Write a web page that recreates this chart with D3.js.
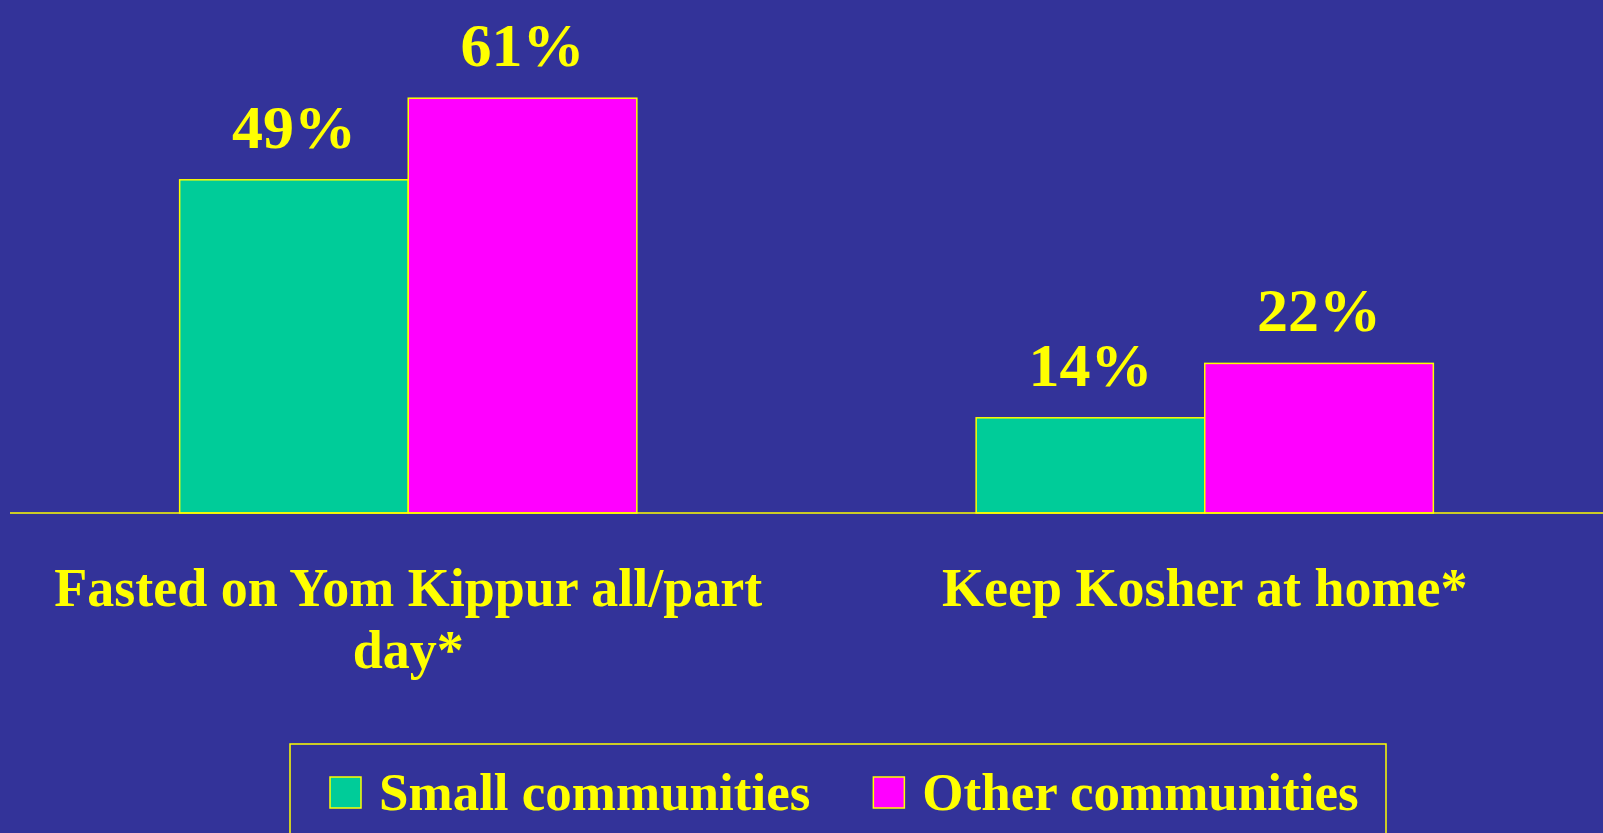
<!DOCTYPE html>
<head>
    <meta charset="utf-8">
    <script src="https://d3js.org/d3.v7.min.js"></script>
    <style>
      body { margin: 0; background: #333399; overflow: hidden; }
      svg text { font-family: "Liberation Serif", "Times New Roman", serif; font-weight: bold; fill: #ffff00; }
    </style>
</head>
<body>
    <div class="chart"></div>

    <script>
      // data
      var categories = ['Fasted on Yom Kippur all/part day*', 'Keep Kosher at home*'];
      var seriesNames = ['Small communities', 'Other communities'];
      var smallValues = [49, 14];
      var otherValues = [61, 22];
      var colors = ['#00cc99', '#ff00ff'];

      var width = 1603, height = 833;
      var baseline = 513;

      var svg = d3.select('.chart')
          .append('svg')
          .attr('width', width)
          .attr('height', height);

      svg.append('rect')
          .attr('width', width)
          .attr('height', height)
          .attr('fill', '#333399');

      var x0 = d3.scaleBand()
          .domain(categories)
          .range([10, width])
          .paddingInner(0.426)
          .paddingOuter(0.213);

      var x1 = d3.scaleBand()
          .domain(seriesNames)
          .range([0, x0.bandwidth()]);

      var y = d3.scaleLinear()
          .domain([0, 75])
          .range([baseline, baseline - 75 * 6.8]);

      var data = categories.map(function(c, i) {
          return {cat: c, values: [
              {name: seriesNames[0], value: smallValues[i], color: colors[0]},
              {name: seriesNames[1], value: otherValues[i], color: colors[1]}
          ]};
      });

      var groups = svg.selectAll('.group')
          .data(data)
          .enter().append('g')
          .attr('class', 'group')
          .attr('transform', function(d) { return 'translate(' + x0(d.cat) + ',0)'; });

      groups.selectAll('rect')
          .data(function(d) { return d.values; })
          .enter().append('rect')
          .attr('x', function(d) { return x1(d.name); })
          .attr('y', function(d) { return y(d.value); })
          .attr('width', x1.bandwidth())
          .attr('height', function(d) { return y(0) - y(d.value); })
          .attr('fill', function(d) { return d.color; })
          .attr('stroke', '#ffff00')
          .attr('stroke-width', 1.5);

      groups.selectAll('.val')
          .data(function(d) { return d.values; })
          .enter().append('text')
          .attr('class', 'val')
          .attr('x', function(d) { return x1(d.name) + x1.bandwidth() / 2; })
          .attr('y', function(d) { return y(d.value) - 32; })
          .attr('text-anchor', 'middle')
          .style('font-size', '62px')
          .text(function(d) { return d.value + '%'; });

      // baseline axis
      var xAxis = d3.axisBottom(x0).tickSize(0).tickPadding(55);
      var axisG = svg.append('g')
          .attr('transform', 'translate(0,' + baseline + ')')
          .call(xAxis);
      axisG.select('.domain').attr('stroke', '#ffff00').attr('stroke-width', 1.5)
          .attr('d', 'M10,0H' + width);
      axisG.selectAll('.tick text')
          .attr('fill', '#ffff00')
          .style('font-size', '54px')
          .style('font-family', '"Liberation Serif", serif')
          .style('font-weight', 'bold')
          .call(wrap, x0.step());

      function wrap(texts, maxW) {
          texts.each(function() {
              var text = d3.select(this),
                  words = text.text().split(/\s+/),
                  line = [],
                  lineNo = 0,
                  ty = text.attr('y');
              text.text(null).attr('dy', null);
              var tspan = text.append('tspan').attr('x', 0).attr('y', ty).attr('dy', '0.71em');
              words.forEach(function(w) {
                  line.push(w);
                  tspan.text(line.join(' '));
                  if (tspan.node().getComputedTextLength() > maxW && line.length > 1) {
                      line.pop();
                      tspan.text(line.join(' '));
                      line = [w];
                      lineNo++;
                      tspan = text.append('tspan').attr('x', 0).attr('y', ty)
                          .attr('dy', (0.71 + lineNo * 1.15) + 'em').text(w);
                  }
              });
          });
      }

      // legend
      var legend = svg.append('g');
      legend.append('rect')
          .attr('x', 290)
          .attr('y', 744)
          .attr('width', 1096)
          .attr('height', 120)
          .attr('fill', 'none')
          .attr('stroke', '#ffff00')
          .attr('stroke-width', 1.5);

      var lx = 330;
      seriesNames.forEach(function(name, i) {
          legend.append('rect')
              .attr('x', lx)
              .attr('y', 777)
              .attr('width', 31)
              .attr('height', 31)
              .attr('fill', colors[i])
              .attr('stroke', '#ffff00')
              .attr('stroke-width', 1.5);
          var t = legend.append('text')
              .attr('x', lx + 49)
              .attr('y', 810)
              .style('font-size', '53px')
              .text(name);
          lx = lx + 49 + t.node().getComputedTextLength() + 63;
      });
    </script>
</body>
